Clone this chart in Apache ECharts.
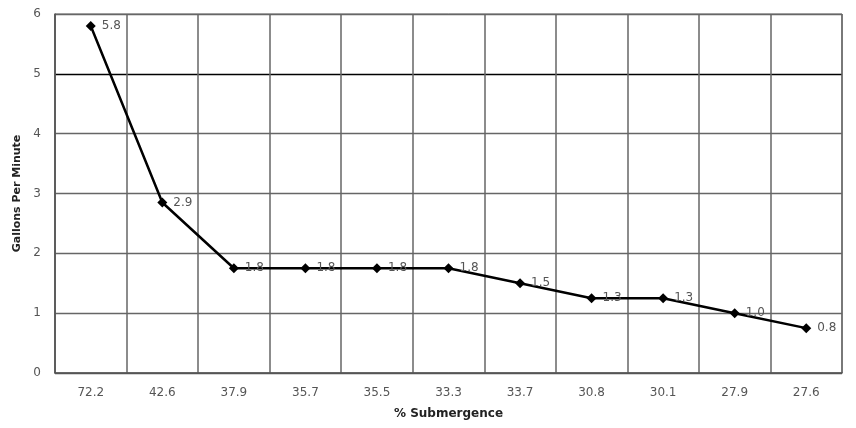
<!DOCTYPE html>
<html><head><meta charset="utf-8">
<script src="https://cdn.jsdelivr.net/npm/echarts@6/dist/echarts.min.js"></script>
<style>html,body{margin:0;padding:0;background:#fff}#c{width:856px;height:428px}</style>
</head><body><div id="c"></div>
<script>
const categories = ['72.2','42.6','37.9','35.7','35.5','33.3','33.7','30.8','30.1','27.9','27.6'];
const gpm = [5.8, 2.85, 1.75, 1.75, 1.75, 1.75, 1.5, 1.25, 1.25, 1.0, 0.75];
const yTicks = [0,1,2,3,4,5,6];
const font = 'DejaVu Sans, Verdana, sans-serif';
const chart = echarts.init(document.getElementById('c'));
chart.setOption({
  animation:false,
  backgroundColor:'#fff',
  grid:{left:55,right:14,top:14,bottom:55,show:true,borderColor:'#666',borderWidth:1},
  xAxis:{type:'category',data:categories,boundaryGap:true,
    name:'% Submergence',nameLocation:'middle',nameGap:35,
    nameTextStyle:{fontFamily:font,fontWeight:'bold',fontSize:12,color:'#222'},
    axisLine:{lineStyle:{color:'#555',width:1.5}},axisTick:{show:false},
    axisLabel:{fontFamily:font,fontSize:12,color:'#555',margin:14},
    splitLine:{show:true,lineStyle:{color:'#666',width:1.5}}},
  yAxis:{type:'value',min:yTicks[0],max:yTicks[yTicks.length-1],interval:1,
    name:'Gallons Per Minute',nameLocation:'middle',nameGap:30,
    nameTextStyle:{fontFamily:font,fontWeight:'bold',fontSize:11,color:'#222'},
    axisLine:{show:true,lineStyle:{color:'#555',width:1.5}},axisTick:{show:false},
    axisLabel:{fontFamily:font,fontSize:12,color:'#555',margin:14},
    splitLine:{show:true,lineStyle:{color:['#555','#666','#666','#666','#666','#000','#666'],width:1.3}}},
  series:[{type:'line',data:gpm,symbol:'diamond',symbolSize:10,
    lineStyle:{color:'#000',width:2.5},itemStyle:{color:'#000'},
    label:{show:true,position:'right',distance:6,fontFamily:font,fontSize:12,color:'#555',
      formatter:p=>p.value.toFixed(1)}}]
});
</script></body></html>
